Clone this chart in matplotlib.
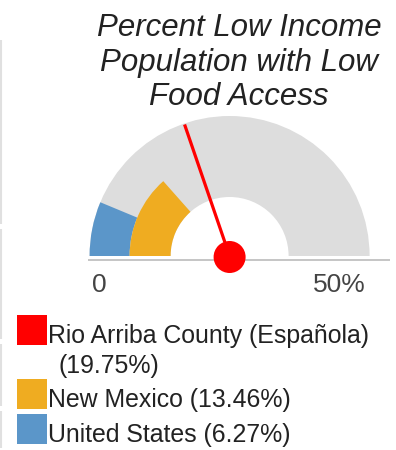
import matplotlib
matplotlib.use("Agg")
import matplotlib.pyplot as plt
from matplotlib.patches import Wedge, Circle, Rectangle
import numpy as np

plt.rcParams['font.family'] = ['Liberation Sans', 'DejaVu Sans']

# ---- data ----
title_lines = ["Percent Low Income", "Population with Low", "Food Access"]
gauge_max = 50.0
tick_labels = ["0", "50%"]
series_names = ["Rio Arriba County (Española)", "New Mexico", "United States"]
series_values = [19.75, 13.46, 6.27]
series_colors = ["#ff0000", "#efac21", "#5b96c9"]

# ---- figure in pixel coordinates ----
W, H = 396, 450
fig = plt.figure(figsize=(W / 100, H / 100), dpi=100)
ax = fig.add_axes([0, 0, 1, 1])
ax.set_xlim(0, W)
ax.set_ylim(H, 0)
ax.axis("off")

cx, cy = 229.6, 256.0
R_out, R_mid, R_in = 140.0, 100.0, 59.0

def data_angle(v):
    # y axis is inverted: data angles 180..360 appear as the upper half
    return 180.0 + 180.0 * (v / gauge_max)

# background band
ax.add_patch(Wedge((cx, cy), R_out, 180, 360, width=R_out - R_in,
                   facecolor="#dddddd", edgecolor="none"))
# United States band (outer)
ax.add_patch(Wedge((cx, cy), R_out, 180, data_angle(series_values[2]),
                   width=R_out - R_mid, facecolor=series_colors[2], edgecolor="none"))
# New Mexico band (inner)
ax.add_patch(Wedge((cx, cy), R_mid, 180, data_angle(series_values[1]),
                   width=R_mid - R_in, facecolor=series_colors[1], edgecolor="none"))

# baseline
ax.plot([88, 390], [259.5, 259.5], color="#bbbbbb", lw=1.2, solid_capstyle="butt")

# needle
a = np.deg2rad(data_angle(series_values[0]))
L = 139.0
ax.plot([cx, cx + L * np.cos(a)], [cy, cy + L * np.sin(a)],
        color=series_colors[0], lw=2.3, solid_capstyle="butt")
ax.add_patch(Circle((cx, cy + 1), 16, facecolor=series_colors[0], edgecolor="none", zorder=5))

# tick labels
ax.text(99.7, 291.5, tick_labels[0], ha="center", va="baseline", fontsize=19, color="#444444")
ax.text(339, 291.5, tick_labels[1], ha="center", va="baseline", fontsize=19, color="#444444")

# title
for line, yb in zip(title_lines, [36, 70.5, 105]):
    ax.text(239, yb, line, ha="center", va="baseline", fontsize=22.5,
            style="italic", color="#222222")

# legend
fs = 17.9
sq_tops = [315, 379, 413.5]
for name, val, col, top in zip(series_names, series_values, series_colors, sq_tops):
    ax.add_patch(Rectangle((16.7, top), 30, 30, facecolor=col, edgecolor="none"))
ax.text(47.5, 343.3, series_names[0], ha="left", va="baseline", fontsize=fs, color="#222222")
ax.text(58, 373.3, f"({series_values[0]:.2f}%)", ha="left", va="baseline", fontsize=fs, color="#222222")
ax.text(47.5, 407.3, f"{series_names[1]} ({series_values[1]:.2f}%)", ha="left", va="baseline",
        fontsize=fs, color="#222222")
ax.text(47.5, 441.7, f"{series_names[2]} ({series_values[2]:.2f}%)", ha="left", va="baseline",
        fontsize=fs, color="#222222")

# faint left-edge separators
for y0, y1 in [(40, 224), (229, 339), (344, 406), (411, 448)]:
    ax.plot([1, 1], [y0, y1], color="#e0e0e0", lw=1.5, solid_capstyle="butt")

fig.savefig("out.png", dpi=100)
